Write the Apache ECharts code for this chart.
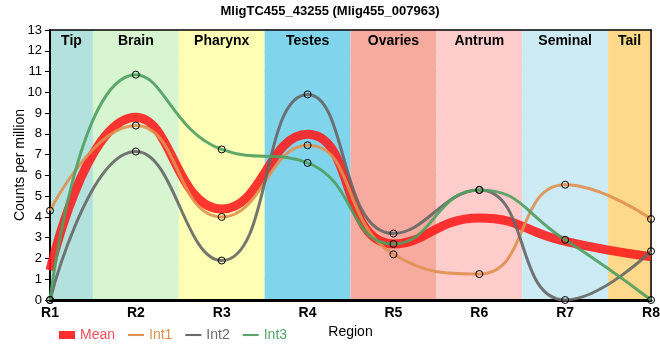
<!DOCTYPE html>
<html><head><meta charset="utf-8">
<script src="https://cdn.jsdelivr.net/npm/echarts@6/dist/echarts.min.js"></script>
<style>html,body{margin:0;padding:0;background:#fff}#c{width:660px;height:360px}</style>
</head><body><div id="c"></div>
<script>
var categories = ['R1','R2','R3','R4','R5','R6','R7','R8'];
var regions = ['Tip','Brain','Pharynx','Testes','Ovaries','Antrum','Seminal','Tail'];
var regionColors = ['#b3e2de','#d7f5d0','#ffffb5','#80d5ec','#f6ab9e','#ffcccc','#cdebf5','#fed98b'];
var mean = [1.43, 8.8, 4.38, 7.98, 2.7, 3.95, 2.82, 2.08];
var int1 = [4.3, 8.4, 4.0, 7.45, 2.2, 1.25, 5.55, 3.9];
var int2 = [0, 7.15, 1.9, 9.9, 3.2, 5.3, 0, 2.35];
var int3 = [0, 10.85, 7.25, 6.6, 2.7, 5.3, 2.9, 0];
var yTicks = [0,1,2,3,4,5,6,7,8,9,10,11,12,13];

var FONT = '"Liberation Sans Narrow","Arial Narrow","Liberation Sans",sans-serif';
function pts(arr){ return arr.map(function(v,i){ return [i, v]; }); }

var bands = regions.map(function(r,i){
  var a = Math.max(0, i-0.5), b = Math.min(categories.length-1, i+0.5);
  return [{xAxis:a, name:r, itemStyle:{color:regionColors[i]}}, {xAxis:b}];
});

var chart = echarts.init(document.getElementById('c'));
var lineSeries = function(name, data, color, width, sym, opacity){
  return {
    name:name, type:'line', smooth:true, data:pts(data), z:3, clip:false,
    symbol: sym ? 'circle' : 'none', symbolSize:7, showSymbol: sym,
    lineStyle:{color:color, width:width, opacity:opacity},
    itemStyle:{color:'rgba(0,0,0,0)', borderColor:'#000', borderWidth:1},
    emphasis:{disabled:true}, animation:false
  };
};
var lineIcon = 'path://M0,0 L20,0 L20,2.6 L0,2.6 Z';
function legItem(name, icon, c, tc){
  return {name:name, icon:icon, itemStyle:{color:c, borderColor:c, borderWidth:0}, textStyle:{color:tc}};
}
chart.setOption({
  animation:false,
  textStyle:{fontFamily:FONT},
  title:{text:'MligTC455_43255 (Mlig455_007963)', left:'center', top:0,
    textStyle:{fontFamily:FONT, fontSize:13, fontWeight:'bold', color:'#000'}},
  grid:{left:50, right:9, top:30, bottom:60, show:false, outerBoundsMode:'none', containLabel:false},
  legend:{left:54, top:323, itemWidth:16, itemHeight:8, itemGap:13,
    textStyle:{fontFamily:FONT, fontSize:14},
    data:[
      legItem('Mean', 'rect', '#ff3030', '#ff4d5a'),
      legItem('Int1', lineIcon, '#e0904f', '#e0904f'),
      legItem('Int2', lineIcon, '#6b6b6b', '#6b6b6b'),
      legItem('Int3', lineIcon, '#5aa36a', '#5aa36a')
    ]},
  xAxis:[{
    type:'value', min:0, max:categories.length-1, interval:1, z:1,
    name:'Region', nameLocation:'middle', nameGap:24,
    nameTextStyle:{fontFamily:FONT, fontSize:14, color:'#000'},
    axisLine:{show:true, lineStyle:{color:'#000', width:3}},
    axisTick:{show:false},
    axisLabel:{formatter:function(v){return categories[v];}, fontFamily:FONT, fontSize:14, fontWeight:'bold', color:'#000', margin:6},
    splitLine:{show:true, lineStyle:{color:'#cccccc', width:1}}
  },{
    type:'value', position:'top', min:0, max:categories.length-1, z:1,
    axisLine:{show:true, onZero:false, lineStyle:{color:'#000', width:1.5}},
    axisTick:{show:false}, axisLabel:{show:false}, splitLine:{show:false}
  }],
  yAxis:[{
    type:'value', min:0, max:13, interval:1, z:1,
    name:'Counts per million', nameLocation:'middle', nameGap:23, nameMoveOverlap:false,
    nameTextStyle:{fontFamily:'"Liberation Sans",Arial,sans-serif', fontSize:14, color:'#000'},
    axisLine:{show:true, onZero:false, lineStyle:{color:'#000', width:2}},
    axisTick:{show:true, length:5, lineStyle:{color:'#000'}},
    axisLabel:{formatter:function(v){return yTicks.indexOf(v)>=0?String(v):'';}, fontFamily:FONT, fontSize:13, color:'#000', margin:8},
    splitLine:{show:true, lineStyle:{color:'#cccccc', width:1}}
  },{
    type:'value', position:'right', min:0, max:13, z:1,
    axisLine:{show:true, onZero:false, lineStyle:{color:'#000', width:1.5}},
    axisTick:{show:false}, axisLabel:{show:false}, splitLine:{show:false}
  }],
  series:[
    {type:'line', name:'bands', data:[], z:0, silent:true,
      markArea:{silent:true, data:bands,
        label:{show:true, position:'insideTop', distance:4, fontFamily:FONT, fontSize:14, fontWeight:'bold', color:'#000'}}},
    lineSeries('Mean', mean, '#ff1a1a', 9, false, 0.88),
    lineSeries('Int1', int1, '#e0904f', 3, true, 0.9),
    lineSeries('Int2', int2, '#666666', 3, true, 0.9),
    lineSeries('Int3', int3, '#4f9e60', 3, true, 0.9)
  ]
});
</script></body></html>
